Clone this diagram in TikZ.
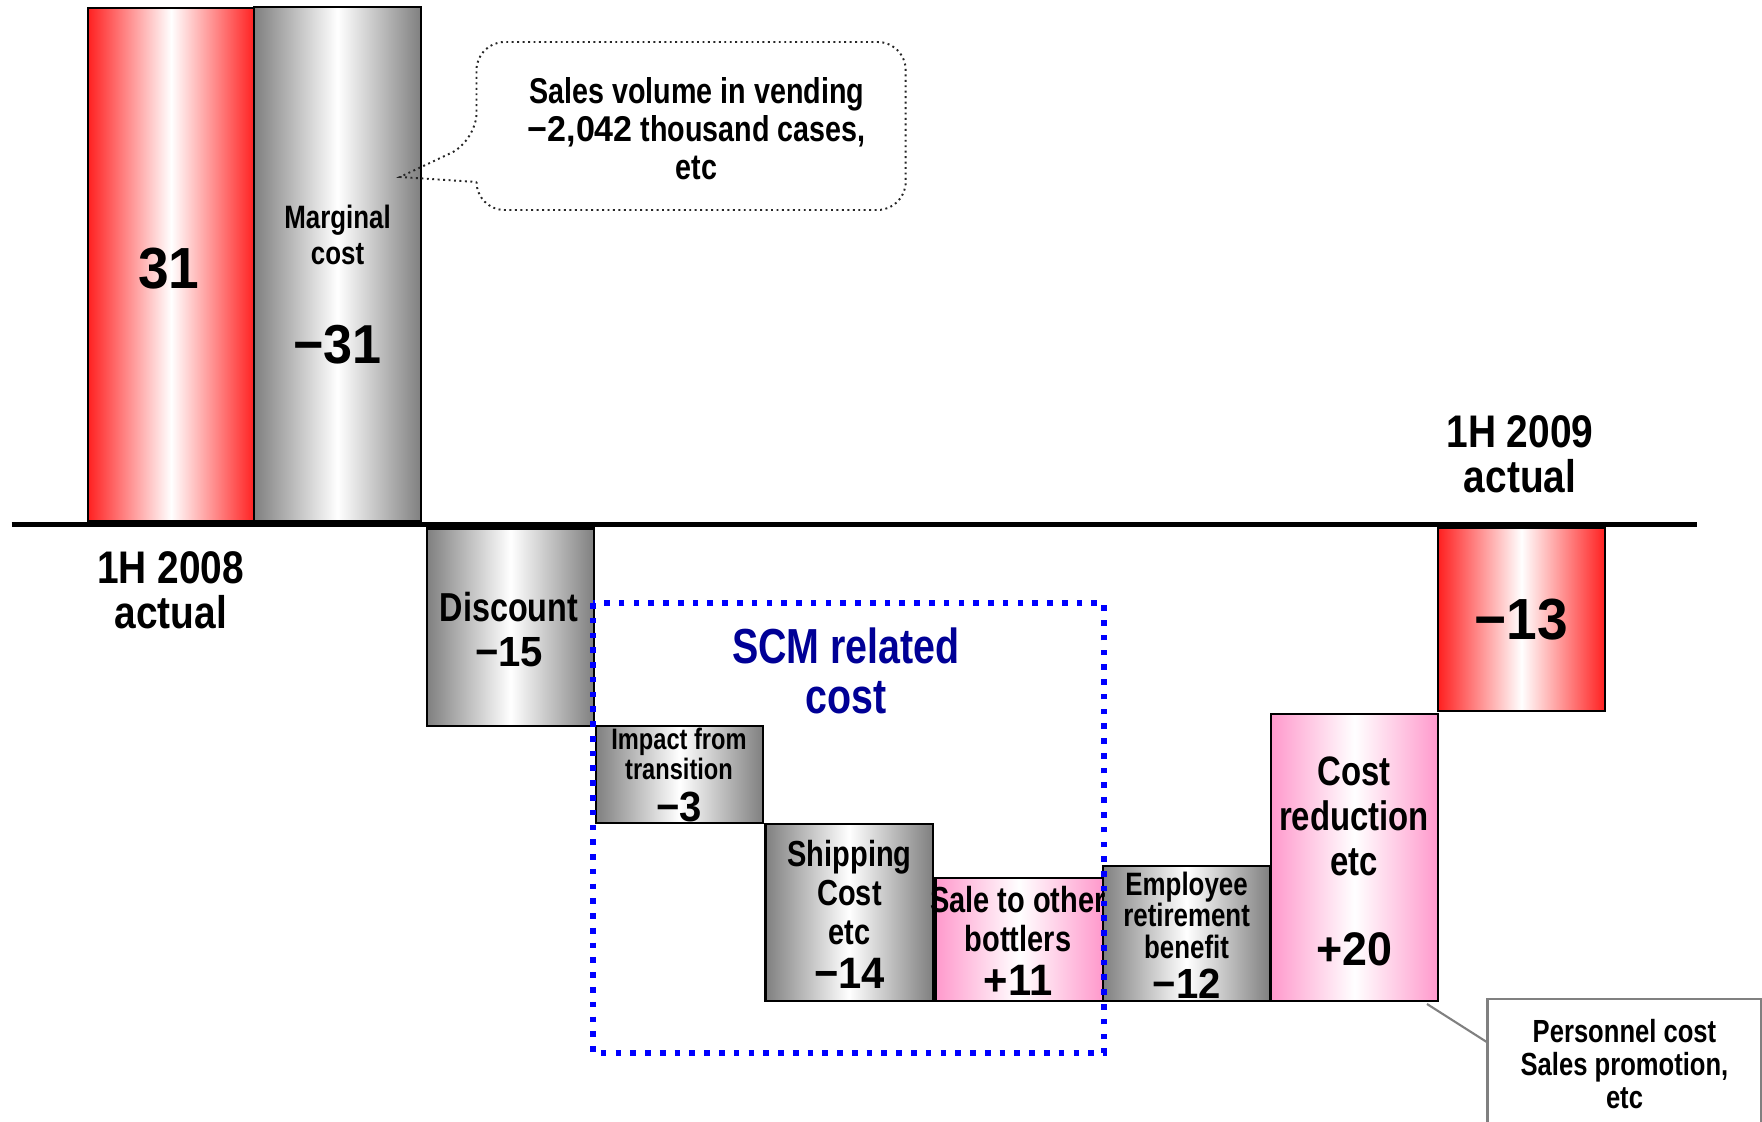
\documentclass[tikz,border=0pt]{standalone}
\usepackage{fontspec}
\setmainfont{Liberation Sans}[FakeStretch=0.8]
\newfontfamily\numfont{Liberation Sans}[FakeStretch=0.95]
\newfontfamily\midfont{Liberation Sans}[FakeStretch=0.85]
\definecolor{barred}{RGB}{255,32,32}
\definecolor{barpink}{RGB}{255,153,204}
\definecolor{scmblue}{RGB}{0,0,255}
\definecolor{scmnavy}{RGB}{0,0,150}
\newcommand{\lblfont}[2]{\fontsize{#1}{#2}\selectfont\bfseries}
\newcommand{\numsize}[1]{\fontsize{#1}{#1}\selectfont\numfont\bfseries}
\begin{document}
\begin{tikzpicture}[x=0.01cm, y=-0.01cm,
    bar/.style={draw=black, line width=0.6pt, anchor=north west, inner sep=0pt, outer sep=0pt, minimum width=1.67cm},
    graybar/.style={bar, left color=gray, right color=gray, middle color=white},
    redbar/.style={bar, left color=barred, right color=barred, middle color=white},
    pinkbar/.style={bar, left color=barpink, right color=barpink, middle color=white},
    lbl/.style={align=center, inner sep=0pt},
    callout/.style={draw=black!85, densely dotted, line width=0.55pt},
    scmbox/.style={draw=scmblue, line width=1.7pt, dash pattern=on 1.6pt off 2.6pt},
    notebox/.style={draw=black!50, line width=0.8pt, align=center, inner sep=0pt},
    leader/.style={draw=black!50, line width=0.6pt}]
    \clip (0,0) rectangle (1762,1122);

    % bars of the waterfall
    \node[redbar, minimum height=5.125cm] (b31) at (87.6,7.9) {};
    \node[graybar, minimum height=5.14cm] (mc) at (254,6.6) {};
    \node[graybar, minimum height=1.975cm] (disc) at (427,528.5) {};
    \node[graybar, minimum height=0.97cm] (imp) at (596,726) {};
    \node[graybar, minimum height=1.77cm] (ship) at (765.5,824) {};
    \node[pinkbar, minimum height=1.23cm] (sale) at (935.5,878) {};
    \node[graybar, minimum height=1.35cm] (emp) at (1103,866) {};
    \node[pinkbar, minimum height=2.87cm] (cred) at (1271,714) {};
    \node[redbar, minimum height=1.835cm] (b13) at (1438,527.5) {};

    \draw[line width=1.4pt] (11.5,524.3) -- (1696.5,524.3);

    % labels
    \node[lbl, font=\numsize{16.5}] (t31) at (169,269) {31};
    \node[lbl, font=\lblfont{9.2}{10.2}] (tmc) at (337.6,235) {Marginal\\cost};
    \node[lbl, font=\numsize{15.6}] (tmcv) at (337.6,345) {−31};
    \node[lbl, font=\lblfont{13}{12.8}\midfont] (t08) at (170.8,590) {1H 2008\\actual};
    \node[lbl, font=\lblfont{11.5}{12.8}] (tdisc) at (509,630) {Discount\\\numsize{12}−15};
    \node[lbl, font=\lblfont{8.4}{8.4}] (timp) at (679,775) {Impact from\\transition\\[2.6pt]\numsize{12}−3};
    \node[lbl, font=\lblfont{10.3}{11.1}] (tship) at (849.5,914) {Shipping\\Cost\\etc\\[1.4pt]\numsize{12.5}−14};
    \node[lbl, font=\lblfont{10.3}{11.1}] (tsale) at (1018,941) {Sale to other\\bottlers\\[1.3pt]\numsize{12.5}+11};
    \node[lbl, font=\lblfont{9.2}{9}] (temp) at (1186.6,935) {Employee\\retirement\\benefit\\[2.4pt]\numsize{12}−12};
    \node[lbl, font=\lblfont{11.7}{12.8}] (tcred) at (1354,861) {Cost\\reduction\\etc\\[12.8pt]\numsize{13.4}+20};
    \node[lbl, font=\numsize{16.5}] (t13) at (1521.5,620) {−13};
    \node[lbl, font=\lblfont{13}{12.8}\midfont] (t09) at (1520,454) {1H 2009\\actual};
    \node[lbl, font=\lblfont{14}{14.4}, text=scmnavy] (tscm) at (846,671) {SCM related\\cost};

    % callout on marginal cost
    \draw[callout] (476.5,182) [rounded corners=8pt] -- (476.5,210) -- (905.7,210) -- (905.7,42) -- (476.5,42) -- (476.5,141) [sharp corners] -- (400,177) -- cycle;
    \node[lbl, font=\lblfont{10.2}{10.8}] (tcall) at (696.7,129) {Sales volume in vending\\{\numfont −2,042} thousand cases,\\etc};

    % SCM related frame
    \draw[scmbox] (593,603) rectangle (1104,1053);

    % note on cost reduction
    \node[notebox, font=\lblfont{9.1}{9.4}, minimum width=2.735cm, minimum height=1.30cm] (pers) at (1624.5,1064) {Personnel cost\\Sales promotion,\\etc};
    \coordinate (credtip) at (1427,1004);
    \coordinate (perstip) at (1487.5,1042.5);
    \draw[leader] (credtip) -- (perstip);
\end{tikzpicture}
\end{document}
